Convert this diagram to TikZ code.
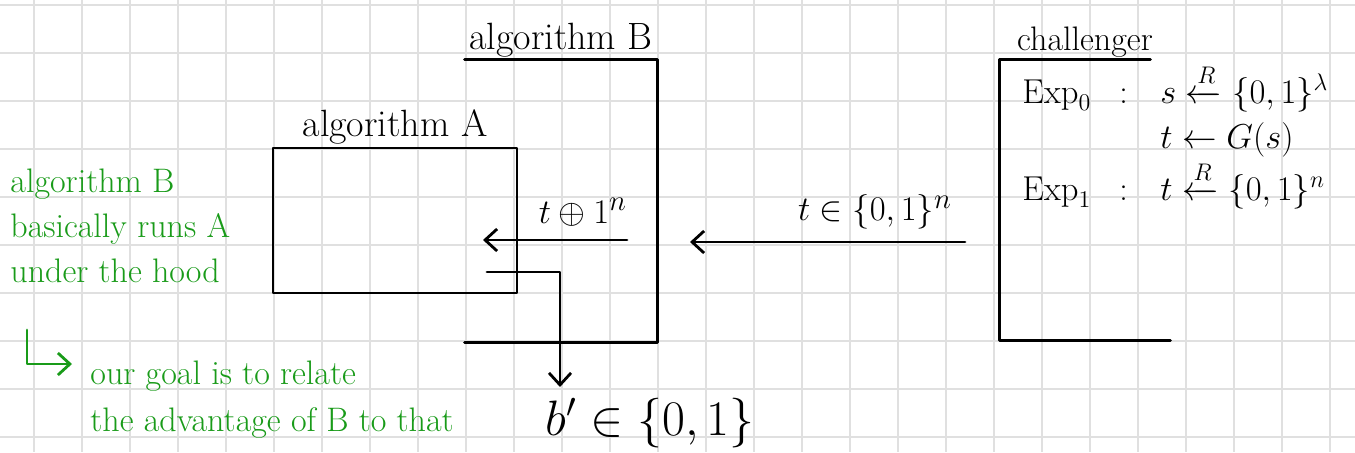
\documentclass[tikz,border=0pt]{standalone}
\usepackage{amsmath,amssymb}
\usetikzlibrary{arrows.meta, positioning}
\definecolor{inkgreen}{RGB}{25,155,25}
\definecolor{gridgray}{RGB}{224,224,224}

\begin{document}
\begin{tikzpicture}[x=0.5pt, y=-0.5pt,
  ink/.style={line width=1.4pt, line cap=round, line join=round},
  tip/.style={-{Straight Barb[length=6pt, width=11pt]}},
  gridline/.style={draw=gridgray, line width=0.8pt},
  hand/.style={font=\fontsize{19}{23}\selectfont, inner sep=0pt},
  expr/.style={font=\fontsize{17}{20}\selectfont, inner sep=0pt, anchor=base west},
  note/.style={text=inkgreen, font=\fontsize{17}{22.5}\selectfont, inner sep=0pt, align=left, anchor=north west}]
\useasboundingbox (0,0) rectangle (1355,452);
\fill[white] (0,0) rectangle (1355,452);

% squared paper
\foreach \gx in {34,82,...,1330} \draw[gridline] (\gx,0) -- (\gx,452);
\foreach \gy in {5,53,...,437} \draw[gridline] (0,\gy) -- (1355,\gy);

% algorithm A (inner box)
\node[draw, ink, minimum width=122pt, minimum height=72.5pt, inner sep=0pt] (boxA) at (395,220.5) {};
\node[hand, above=1pt of boxA.north] (labA) {algorithm A};

% algorithm B (open on the left)
\node[minimum width=96pt, minimum height=141pt, inner sep=0pt] (boxB) at (561,201) {};
\draw[ink] (boxB.north west) -- (boxB.north east) -- (boxB.south east) -- (boxB.south west);
\node[hand, above=1pt of boxB.north] (labB) {algorithm B};

% challenger (open on the right)
\node[minimum width=85pt, minimum height=140pt, inner sep=0pt] (chal) at (1085,200) {};
\draw[ink] ([xshift=-10pt]chal.north east) -- (chal.north west) -- (chal.south west) -- (chal.south east);
\node[hand, font=\fontsize{17}{20}\selectfont, above=1pt of chal.north] (labC) {challenger};

\node[expr] (exp0) at (1022,103) {$\mathrm{Exp}_0$\hspace{14pt}:};
\node[expr] (samp0) at (1160,103) {$s \xleftarrow{R} \{0,1\}^{\lambda}$};
\node[expr] (gen0) at (1160,148) {$t \leftarrow G(s)$};
\node[expr] (exp1) at (1022,200) {$\mathrm{Exp}_1$\hspace{14pt}:};
\node[expr] (samp1) at (1160,200) {$t \xleftarrow{R} \{0,1\}^{n}$};

% messages
\coordinate (chalOut) at (965,242);
\coordinate (bIn) at (690,242);
\draw[ink, tip] (chalOut) -- (bIn);
\node[hand] (tmsg) at (875,212) {$t \in \{0,1\}^n$};

\coordinate (bFwd) at (627,240);
\coordinate (aIn) at (483,240);
\draw[ink, tip] (bFwd) -- (aIn);
\node[hand] (tflip) at (583,212) {$t \oplus 1^n$};

\coordinate (aOut) at (487,272);
\coordinate (bOut) at (560,387);
\draw[ink, tip] (aOut) -| (bOut);
\node[hand, font=\fontsize{24}{28}\selectfont, anchor=north west] (bbit) at (545,398) {$b' \in \{0,1\}$};

% side notes
\node[note] (why) at (10,168) {algorithm B\\basically runs A\\under the hood};
\node[note, font=\fontsize{17}{23.5}\selectfont] (goal) at (90,360) {our goal is to relate\\the advantage of B to that\\\hspace*{150pt}of A};
\coordinate (hook) at (27,330);
\draw[ink, inkgreen, tip] (hook) |- ([xshift=-9pt, yshift=-2pt]goal.north west);
\end{tikzpicture}
\end{document}
